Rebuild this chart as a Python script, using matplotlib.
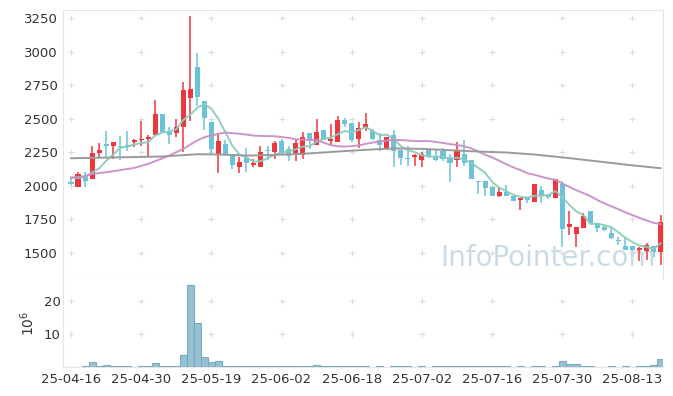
import numpy as np
import pandas as pd
import matplotlib
matplotlib.use('Agg')
import matplotlib.pyplot as plt
from matplotlib import font_manager

tick_idx = [0, 10, 20, 30, 40, 50, 60, 70, 80]
tick_labels = ['25-04-16', '25-04-30', '25-05-19', '25-06-02', '25-06-18',
               '25-07-02', '25-07-16', '25-07-30', '25-08-13']

opens = [2026, 1988, 2063, 2048, 2243, 2313, 2295, 2298, 2303, 2323,
         2340, 2348, 2382, 2537, 2405, 2392, 2437, 2654, 2884, 2629,
         2472, 2228, 2313, 2233, 2138, 2205, 2153, 2138, 2270, 2250,
         2333, 2275, 2243, 2228, 2390, 2303, 2412, 2330, 2325, 2487,
         2467, 2348, 2432, 2410, 2338, 2272, 2382, 2263, 2208, 2213,
         2190, 2275, 2219, 2256, 2206, 2190, 2233, 2194, 2038, 2038,
         1994, 1921, 1951, 1926, 1894, 1906, 1876, 1969, 1932, 1910,
         2016, 1689, 1638, 1682, 1814, 1721, 1689, 1651, 1592, 1552,
         1552, 1520, 1510, 1548, 1505]
highs = [2063, 2103, 2101, 2298, 2320, 2405, 2325, 2368, 2405, 2350,
         2480, 2375, 2637, 2537, 2440, 2495, 2772, 3265, 2993, 2629,
         2472, 2395, 2340, 2233, 2213, 2285, 2200, 2298, 2295, 2335,
         2345, 2300, 2338, 2400, 2390, 2494, 2412, 2462, 2518, 2507,
         2467, 2475, 2545, 2422, 2390, 2365, 2417, 2263, 2300, 2233,
         2252, 2275, 2270, 2278, 2238, 2325, 2340, 2194, 2038, 2038,
         1994, 1980, 2003, 1926, 1906, 1906, 2013, 2001, 1939, 2051,
         2038, 1814, 1689, 1800, 1814, 1721, 1701, 1689, 1616, 1612,
         1552, 1542, 1577, 1548, 1780]
lows = [2008, 1988, 1993, 2048, 2215, 2213, 2200, 2193, 2258, 2288,
        2300, 2225, 2382, 2398, 2313, 2363, 2250, 2480, 2593, 2412,
        2228, 2096, 2228, 2128, 2096, 2104, 2138, 2138, 2190, 2200,
        2230, 2185, 2185, 2200, 2275, 2303, 2338, 2295, 2325, 2440,
        2325, 2282, 2410, 2340, 2258, 2270, 2143, 2157, 2145, 2150,
        2140, 2204, 2184, 2185, 2030, 2143, 2150, 2048, 1939, 1922,
        1921, 1914, 1921, 1889, 1819, 1868, 1876, 1871, 1901, 1906,
        1543, 1635, 1543, 1682, 1719, 1655, 1662, 1604, 1562, 1520,
        1510, 1440, 1450, 1468, 1410]
closes = [2013, 2091, 2033, 2245, 2263, 2295, 2323, 2288, 2290, 2343,
          2345, 2360, 2537, 2398, 2375, 2435, 2712, 2724, 2662, 2505,
          2273, 2330, 2228, 2152, 2180, 2168, 2168, 2250, 2256, 2318,
          2243, 2220, 2318, 2360, 2338, 2398, 2343, 2352, 2490, 2460,
          2340, 2432, 2462, 2348, 2303, 2360, 2260, 2206, 2198, 2230,
          2238, 2225, 2190, 2200, 2168, 2263, 2168, 2048, 2026, 1983,
          1921, 1951, 1921, 1889, 1906, 1894, 2013, 1926, 1917, 2051,
          1675, 1717, 1689, 1777, 1719, 1682, 1667, 1607, 1585, 1520,
          1522, 1533, 1560, 1505, 1732]
volumes = [0.05, 0.05, 0.2, 1.4, 0.2, 0.5, 0.2, 0.2, 0.2, 0.05,
           0.4, 0.2, 1.1, 0.2, 0.2, 0.2, 3.5, 24.7, 13.3, 2.9,
           1.6, 1.9, 0.4, 0.4, 0.4, 0.2, 0.2, 0.4, 0.2, 0.4,
           0.2, 0.2, 0.4, 0.4, 0.2, 0.7, 0.2, 0.4, 0.4, 0.2,
           0.4, 0.4, 0.2, 0.05, 0.2, 0.05, 0.2, 0.2, 0.2, 0.05,
           0.2, 0.05, 0.2, 0.2, 0.2, 0.2, 0.4, 0.4, 0.2, 0.2,
           0.2, 0.2, 0.2, 0.05, 0.2, 0.05, 0.2, 0.2, 0.05, 0.2,
           1.7, 0.8, 0.8, 0.2, 0.2, 0.05, 0.05, 0.2, 0.05, 0.2,
           0.05, 0.2, 0.2, 0.5, 2.3]

# moving-average values read where prior history is needed
ma5_head = [2060, 2058, 2065, 2100]
ma20_head_idx = [0, 2, 3, 6, 9, 11, 14, 16, 18]
ma20_head = [2061, 2071, 2088, 2108, 2133, 2163, 2225, 2275, 2338]
ma_long_idx = [0, 8, 13, 18, 21, 25, 29, 33, 38, 42, 46, 50, 54, 58, 62, 66, 71, 76, 80, 84]
ma_long = [2205, 2213, 2218, 2235, 2233, 2225, 2230, 2238, 2255, 2268,
           2278, 2275, 2265, 2255, 2248, 2233, 2206, 2176, 2152, 2131]

UP = '#ee373d'
DOWN = '#6cc2d8'

n = len(closes)
idx = np.arange(n)
o = np.array(opens, float); c = np.array(closes, float)
h = np.array(highs, float); l = np.array(lows, float)
cs = pd.Series(c)
ma5 = cs.rolling(5).mean().values
ma5[:4] = ma5_head
ma20_tail = cs.rolling(20).mean().values[19:]
ma20_x = list(ma20_head_idx) + list(range(19, n))
ma20_y = list(ma20_head) + list(ma20_tail)

fig = plt.figure(figsize=(6.73, 3.96), dpi=100)
ax = fig.add_axes([63/673, 1-279/396, 600/673, 269/396])
axv = fig.add_axes([63/673, 1-367/396, 600/673, 88/396], sharex=ax)

cols = [UP if cc >= oo else DOWN for oo, cc in zip(o, c)]
ax.vlines(idx, l, h, colors=cols, linewidth=1.1, zorder=3)
body = np.maximum(np.abs(c - o), 4)
ax.bar(idx, body, bottom=np.minimum(o, c), width=0.72, color=cols, linewidth=0, zorder=4)

ax.plot(idx, ma5, color='#8ccbbd', lw=1.4, zorder=5, alpha=0.95)
ax.plot(ma20_x, ma20_y, color='#c98fc6', lw=1.4, zorder=5, alpha=0.95)
ax.plot(ma_long_idx, ma_long, color='#9a9a9a', lw=1.4, zorder=5)

ax.set_ylim(1305, 3310)
ax.set_xlim(-1.14, 84.35)
yt = [1500, 1750, 2000, 2250, 2500, 2750, 3000, 3250]
ax.set_yticks(yt)
ax.set_yticklabels([str(v) for v in yt])
gx, gy = np.meshgrid(tick_idx, yt)
ax.scatter(gx.ravel(), gy.ravel(), marker='+', s=22, color='#dddddd', linewidths=0.8, zorder=1)
ax.tick_params(axis='x', bottom=False, labelbottom=False)
ax.tick_params(axis='y', length=0, pad=4, labelsize=9.5, colors='#333333')
for sp in ax.spines.values():
    sp.set_color('#e6e6e6')

installed = {f.name for f in font_manager.fontManager.ttflist}
wm_family = 'Liberation Sans Narrow' if 'Liberation Sans Narrow' in installed else 'DejaVu Sans'
wm_size = 27 if wm_family == 'Liberation Sans Narrow' else 20
ax.text(0.988, 0.05, 'InfoPointer.com', transform=ax.transAxes, ha='right', va='baseline',
        fontsize=wm_size, color='#c9dbe6', zorder=2, family=wm_family)

axv.bar(idx, volumes, width=1.0, color='#8fbfd0', edgecolor='#78a9bf', linewidth=0.8, alpha=0.95, zorder=3)
axv.set_ylim(0, 26.5)
axv.set_yticks([10, 20])
axv.set_yticklabels(['10', '20'])
vx, vy = np.meshgrid(tick_idx, [10, 20])
axv.scatter(vx.ravel(), vy.ravel(), marker='+', s=22, color='#dddddd', linewidths=0.8, zorder=1)
axv.set_xticks(tick_idx)
axv.set_xticklabels(tick_labels)
axv.tick_params(axis='x', length=0, pad=4, labelsize=9.5, colors='#333333')
axv.tick_params(axis='y', length=0, pad=1.5, labelsize=9.5, colors='#333333')
axv.set_ylabel(r'$\mathregular{10^6}$', fontsize=10, color='#333333', labelpad=5)
for sp in ['top', 'right']:
    axv.spines[sp].set_visible(False)
for sp in ['left', 'bottom']:
    axv.spines[sp].set_color('#e6e6e6')

fig.savefig('out.png', dpi=100)
